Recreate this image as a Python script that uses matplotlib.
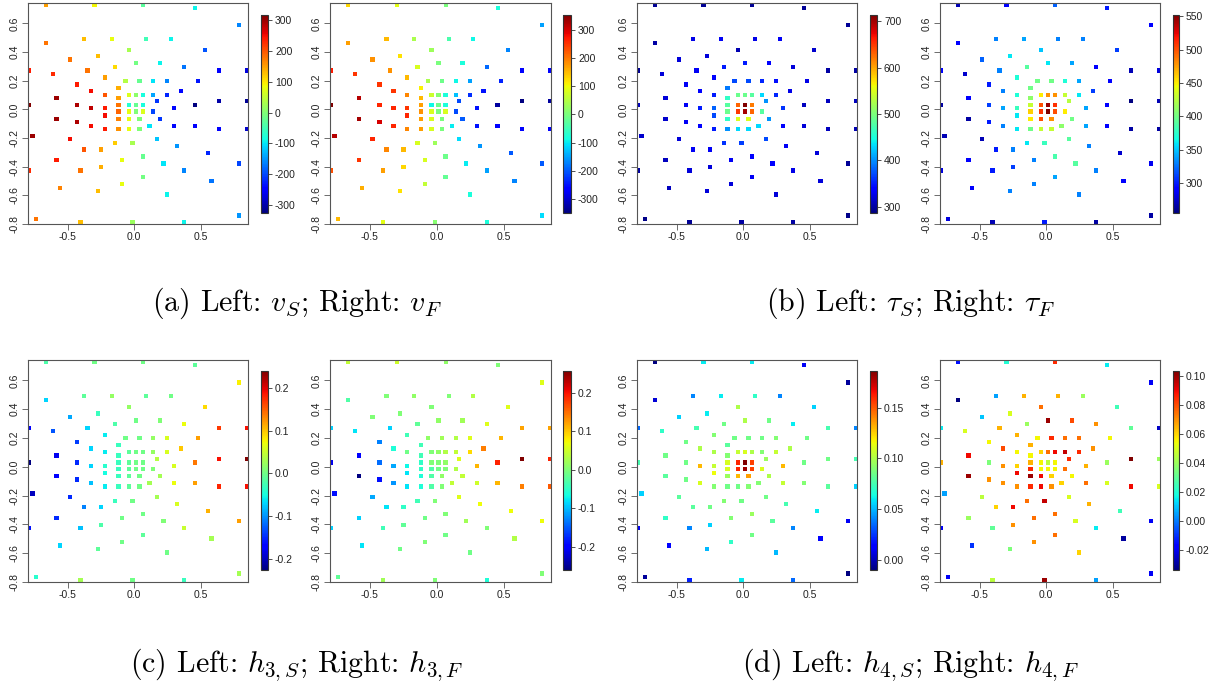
import numpy as np
import matplotlib
matplotlib.use('Agg')
import matplotlib.pyplot as plt

plt.rcParams['font.family'] = ['Liberation Sans', 'DejaVu Sans']
plt.rcParams['axes.unicode_minus'] = False

# bin centres (shared by all panels), listed row by row from the top
x_pos = [-0.663, -0.298, 0.068,
         0.455,
         0.785,
         -0.375, -0.168, 0.090, 0.273,
         -0.663,
         -0.040, 0.530,
         -0.273,
         -0.480,
         0.013, 0.193,
         -0.143, 0.373,
         -0.790, -0.350, 0.635, 0.843,
         -0.608,
         -0.220,
         -0.065, 0.040, 0.143, 0.248, 0.480,
         -0.428,
         -0.118,
         -0.323, 0.348,
         -0.220, -0.040, 0.013, 0.065, 0.143, 0.248,
         -0.583, -0.118,
         0.168, 0.635, 0.843,
         -0.790, -0.428, -0.118, -0.040, 0.013, 0.065, 0.453,
         -0.323, -0.220, 0.298,
         -0.118, -0.040, 0.013, 0.065, 0.143,
         -0.220,
         -0.583, -0.118, -0.040, 0.040, 0.193,
         -0.428,
         -0.323, 0.115, 0.298, 0.453,
         -0.220, -0.118, -0.040, 0.040, 0.635, 0.843,
         -0.763,
         -0.480, 0.168,
         -0.143, -0.013,
         0.323,
         -0.375, -0.248,
         0.555,
         0.065,
         -0.583, -0.090,
         0.220, 0.785,
         -0.248,
         -0.790, -0.403, 0.373,
         0.065,
         0.580,
         -0.090,
         -0.558,
         -0.273,
         0.248,
         0.785,
         -0.738,
         -0.403, -0.013, 0.373]

y_pos = [0.730, 0.730, 0.730,
         0.707,
         0.586,
         0.491, 0.491, 0.491, 0.491,
         0.465,
         0.416, 0.416,
         0.370,
         0.347,
         0.321, 0.321,
         0.295, 0.295,
         0.272, 0.272, 0.272, 0.272,
         0.249,
         0.223,
         0.200, 0.200, 0.200, 0.200, 0.200,
         0.174,
         0.151,
         0.128, 0.128,
         0.102, 0.102, 0.102, 0.102, 0.102, 0.102,
         0.079, 0.079,
         0.056, 0.056, 0.056,
         0.030, 0.030, 0.030, 0.030, 0.030, 0.030, 0.030,
         0.007, 0.007, 0.007,
         -0.016, -0.016, -0.016, -0.016, -0.016,
         -0.042,
         -0.065, -0.065, -0.065, -0.065, -0.065,
         -0.088,
         -0.114, -0.114, -0.114, -0.114,
         -0.137, -0.137, -0.137, -0.137, -0.137, -0.137,
         -0.186,
         -0.209, -0.209,
         -0.235, -0.235,
         -0.258,
         -0.281, -0.281,
         -0.307,
         -0.330,
         -0.353, -0.353,
         -0.377, -0.377,
         -0.402,
         -0.426, -0.426, -0.426,
         -0.474,
         -0.498,
         -0.523,
         -0.547,
         -0.570,
         -0.595,
         -0.740,
         -0.763,
         -0.786, -0.786, -0.786]

v_S = [150, 90, -30, -90, -160, 130, 80, -50, -90, 180, 30, -190, 130, 180,
       -10, -90, 110, -170, 240, 180, -250, -270, 230, 150,
       40, -20, -100, -160, -230, 240, 140, 250, -240,
       200, 70, 10, -80, -140, -220, 300, 150, -210, -300, -310,
       316, 290, 180, -70, -20, -80, -325, 280, 240, -240,
       190, 80, 0, 70, -200, 250, 300, 170, 80, 0, -210, 290,
       250, -100, -240, -250, 240, 160, 80, 0, -250, -280,
       300, 250, -120, 120, 30, -150, 200, 150, -220, -20, 240, 80,
       -100, -200, 140, 230, 180, -160, -10, -170, 80, 170, 130, -90,
       -150, 180, 130, 20, -90]

v_F = [130, 90, 0, -80, -150, 150, 40, -40, -90, 170, 30, -170, 120, 180,
       0, -80, 80, -190, 270, 180, -260, -260, 250, 150,
       40, -10, -90, -150, -240, 250, 110, 250, -250,
       190, 70, 10, -80, -130, -230, 320, 150, -210, -350, -330,
       353, 260, 170, -90, -10, -80, -330, 260, 250, -250,
       180, 80, 0, 80, -210, 260, 330, 170, 80, 0, -200, 300,
       260, -100, -250, -260, 190, 170, 80, 0, -260, -270,
       320, 260, -110, 80, 30, -160, 190, 150, -200, -10, 250, 80,
       -100, -200, 130, 230, 170, -150, -20, -170, 60, 160, 120, -80,
       -110, 150, 90, 10, -80]

tau_S = [295, 295, 295, 295, 295, 325, 330, 325, 330, 300, 305, 315, 320, 320,
         350, 340, 350, 320, 295, 330, 300, 300, 320, 340,
         370, 370, 355, 345, 325, 330, 390, 340, 325,
         350, 490, 490, 480, 430, 355, 320, 460, 400, 310, 310,
         310, 330, 480, 630, 714, 620, 310, 350, 380, 360,
         490, 650, 700, 630, 480, 370, 315, 460, 550, 550, 400, 330,
         340, 430, 340, 320, 350, 400, 430, 430, 310, 305,
         315, 320, 370, 360, 365, 330, 330, 330, 320, 340, 310, 330,
         335, 295, 320, 300, 320, 325, 330, 320, 320, 310, 320, 320,
         290, 290, 295, 300, 300]

tau_F = [270, 290, 320, 300, 290, 330, 340, 330, 330, 290, 350, 310, 360, 320,
         360, 340, 390, 290, 290, 330, 270, 280, 275, 370,
         400, 400, 370, 340, 290, 300, 400, 330, 310,
         370, 450, 480, 480, 430, 360, 290, 410, 425, 255, 270,
         265, 310, 430, 500, 545, 510, 290, 340, 380, 340,
         460, 510, 552, 500, 450, 360, 265, 450, 500, 480, 400, 300,
         330, 410, 340, 290, 360, 400, 430, 430, 265, 265,
         270, 270, 390, 360, 380, 330, 300, 330, 275, 385, 290, 330,
         390, 285, 310, 280, 300, 330, 340, 290, 330, 290, 330, 330,
         265, 280, 270, 300, 265]

h3_S = [-0.02, 0.0, 0.0, -0.01, 0.08, -0.01, 0.02, -0.01, 0.0, -0.07, 0.02, 0.09,
        -0.03, -0.09, 0.0, 0.01, -0.02, 0.07, -0.17, -0.07, 0.17, 0.19, -0.13, -0.06,
        0.0, 0.0, 0.02, 0.06, 0.12, -0.14, -0.03, -0.07, 0.10,
        -0.06, -0.01, 0.0, 0.0, 0.02, 0.06, -0.18, -0.03, 0.04, 0.19, 0.241,
        -0.227, -0.15, -0.03, -0.01, 0.0, 0.0, 0.14, -0.07, -0.04, 0.06,
        -0.03, -0.01, 0.0, 0.0, 0.01, -0.05, -0.17, -0.03, -0.01, 0.0, 0.03, -0.15,
        -0.08, 0.03, 0.07, 0.12, -0.06, -0.03, -0.01, 0.0, 0.18, 0.19,
        -0.20, -0.15, 0.03, -0.03, 0.0, 0.06, -0.11, -0.07, 0.11, 0.0, -0.15, 0.0,
        0.01, 0.12, -0.02, -0.16, -0.08, 0.05, -0.01, 0.03, 0.0, -0.07, -0.01, 0.0,
        0.03, -0.04, 0.03, 0.0, -0.03]

h3_F = [0.04, 0.05, 0.01, 0.0, 0.06, 0.0, 0.01, 0.0, 0.03, -0.03, 0.0, 0.06,
        0.0, 0.0, 0.01, 0.02, -0.02, 0.06, -0.09, -0.09, 0.12, 0.12, -0.08, -0.04,
        0.01, 0.02, 0.03, 0.06, 0.11, -0.13, -0.04, -0.06, 0.14,
        -0.01, 0.0, 0.01, 0.03, 0.04, 0.09, -0.20, -0.04, 0.06, 0.256, 0.19,
        -0.21, -0.14, -0.05, 0.0, 0.0, 0.01, 0.19, -0.11, -0.07, 0.11,
        -0.05, -0.03, -0.01, 0.0, 0.03, -0.08, -0.261, -0.06, -0.03, 0.01, 0.04, -0.19,
        -0.12, 0.04, 0.05, 0.11, -0.08, -0.06, -0.03, 0.0, 0.14, 0.16,
        -0.19, -0.11, 0.06, -0.04, 0.0, 0.07, -0.08, -0.05, 0.07, 0.0, -0.09, -0.01,
        0.02, 0.07, -0.02, -0.09, -0.04, 0.0, -0.01, 0.03, 0.0, -0.08, -0.01, -0.01,
        0.0, -0.02, 0.02, 0.0, -0.06]

h4_S = [-0.01, 0.06, 0.06, 0.01, -0.005, 0.04, 0.06, 0.07, 0.04, 0.005, 0.10, 0.055,
        0.06, 0.055, 0.10, 0.085, 0.085, 0.06, 0.035, 0.075, 0.075, 0.04, 0.07, 0.09,
        0.085, 0.085, 0.085, 0.09, 0.085, 0.085, 0.08, 0.10, 0.10,
        0.10, 0.105, 0.11, 0.10, 0.09, 0.105, 0.085, 0.09, 0.095, 0.085, 0.075,
        0.075, 0.085, 0.11, 0.16, 0.186, 0.155, 0.085, 0.13, 0.105, 0.13,
        0.11, 0.16, 0.18, 0.155, 0.11, 0.115, 0.08, 0.095, 0.13, 0.135, 0.10, 0.085,
        0.11, 0.09, 0.105, 0.09, 0.09, 0.085, 0.085, 0.09, 0.08, 0.055,
        0.055, 0.08, 0.085, 0.09, 0.085, 0.075, 0.08, 0.085, 0.06, 0.095, 0.07, 0.09,
        0.08, 0.01, 0.055, 0.01, 0.04, 0.04, 0.085, 0.015, 0.07, 0.015, 0.05, 0.05,
        -0.01, -0.005, 0.02, 0.06, 0.035]

h4_F = [-0.015, 0.02, 0.085, 0.015, -0.02, 0.005, 0.065, 0.065, 0.04, -0.034, 0.075, 0.025,
        0.05, 0.01, 0.10, 0.08, 0.04, 0.07, 0.015, 0.065, 0.03, -0.025, 0.05, 0.065,
        0.055, 0.085, 0.075, 0.075, 0.055, 0.055, 0.065, 0.08, 0.07,
        0.055, 0.06, 0.075, 0.09, 0.095, 0.085, 0.09, 0.055, 0.085, 0.1035, 0.04,
        0.065, 0.035, 0.065, 0.055, 0.045, 0.055, 0.04, 0.07, 0.06, 0.065,
        0.085, 0.055, 0.055, 0.055, 0.075, 0.09, 0.10, 0.10, 0.09, 0.06, 0.055, 0.07,
        0.07, 0.06, 0.075, 0.05, 0.07, 0.085, 0.09, 0.07, 0.09, 0.05,
        0.005, 0.045, 0.05, 0.075, 0.095, 0.065, 0.06, 0.09, 0.025, 0.075, 0.04, 0.075,
        0.05, -0.02, 0.07, -0.02, 0.03, 0.015, 0.075, -0.03, 0.07, -0.01, 0.035, 0.06,
        -0.02, -0.02, 0.045, 0.10, 0.005]

# colour-bar ranges and ticks
v_range = [(-325, 316), (-350, 353)]
tau_range = [(286, 714), (255, 552)]
h3_range = [(-0.227, 0.241), (-0.261, 0.256)]
h4_range = [(-0.010, 0.186), (-0.034, 0.1035)]

v_ticks = [-300, -200, -100, 0, 100, 200, 300]
tau_S_ticks = [300, 400, 500, 600, 700]
tau_F_ticks = [300, 350, 400, 450, 500, 550]
h3_ticks = [-0.2, -0.1, 0.0, 0.1, 0.2]
h4_S_ticks = [0.00, 0.05, 0.10, 0.15]
h4_F_ticks = [-0.02, 0.00, 0.02, 0.04, 0.06, 0.08, 0.10]

captions = [r'(a) Left: $v_S$; Right: $v_F$',
            r'(b) Left: $\tau_S$; Right: $\tau_F$',
            r'(c) Left: $h_{3,S}$; Right: $h_{3,F}$',
            r'(d) Left: $h_{4,S}$; Right: $h_{4,F}$']

panels = [
    (v_S, v_range[0], v_ticks, '%d'),
    (v_F, v_range[1], v_ticks, '%d'),
    (tau_S, tau_range[0], tau_S_ticks, '%d'),
    (tau_F, tau_range[1], tau_F_ticks, '%d'),
    (h3_S, h3_range[0], h3_ticks, '%.1f'),
    (h3_F, h3_range[1], h3_ticks, '%.1f'),
    (h4_S, h4_range[0], h4_S_ticks, '%.2f'),
    (h4_F, h4_range[1], h4_F_ticks, '%.2f'),
]

W, H = 1221, 684
fig = plt.figure(figsize=(W / 100, H / 100), dpi=100)

def box(x0, y0, x1, y1):
    # pixel box (top-left origin) -> figure fraction rect
    return [x0 / W, 1 - y1 / H, (x1 - x0) / W, (y1 - y0) / H]

axes_x = [(28, 248), (330, 551), (637, 857), (940, 1160)]
cbar_x = [(261, 268), (563, 571), (870, 877), (1173, 1179)]
axes_y = [(3, 224), (360, 582)]
cbar_y = [(15, 213), (371, 570)]

frame_col = '#555555'

for i, (vals, (vmin, vmax), ticks, fmt) in enumerate(panels):
    r, c = i // 4, i % 4
    ax = fig.add_axes(box(axes_x[c][0], axes_y[r][0], axes_x[c][1], axes_y[r][1]))
    sc = ax.scatter(x_pos, y_pos, c=vals, cmap='jet', vmin=vmin, vmax=vmax,
                    marker='s', s=9.5, linewidths=0)
    ax.set_xlim(-0.797, 0.853)
    ax.set_ylim(-0.798, 0.742)
    ax.set_xticks([-0.5, 0.0, 0.5])
    ax.set_xticklabels(['-0.5', '0.0', '0.5'])
    yt = [-0.8, -0.6, -0.4, -0.2, 0.0, 0.2, 0.4, 0.6]
    ax.set_yticks(yt)
    ax.set_yticklabels(['%.1f' % t for t in yt], rotation=90, va='center')
    ax.tick_params(labelsize=7.5, length=4, width=0.6, color=frame_col,
                   labelcolor='#222222', pad=2)
    for sp in ax.spines.values():
        sp.set_color(frame_col)
        sp.set_linewidth(0.8)

    cax = fig.add_axes(box(cbar_x[c][0], cbar_y[r][0], cbar_x[c][1], cbar_y[r][1]))
    cb = fig.colorbar(sc, cax=cax)
    cb.set_ticks(ticks)
    cb.set_ticklabels([fmt % t for t in ticks])
    cb.outline.set_linewidth(0.8)
    cb.outline.set_edgecolor('#333333')
    cax.tick_params(labelsize=7.5, length=3, width=0.6, color='#333333',
                    labelcolor='#222222', pad=2)

cap_pos = [(297, 303), (910, 303), (297, 665), (910, 665)]
for (px, py), txt in zip(cap_pos, captions):
    fig.text(px / W, 1 - py / H, txt, ha='center', va='center', fontsize=21.5,
             fontfamily='cmr10', math_fontfamily='cm')

fig.savefig('out.png', dpi=100)
